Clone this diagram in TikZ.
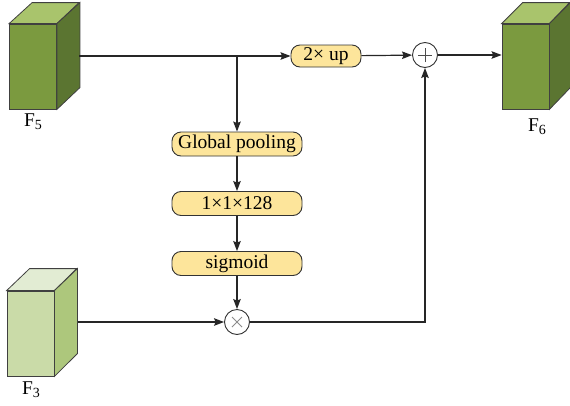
\documentclass[tikz,border=0pt]{standalone}
\usepackage{fontspec}
\setmainfont{Liberation Serif}
\usepackage{xcolor}
\usetikzlibrary{positioning, arrows.meta}

\definecolor{deepfront}{HTML}{7B9A3F}
\definecolor{deeptop}{HTML}{A9C46C}
\definecolor{deepside}{HTML}{5B7531}
\definecolor{lightfront}{HTML}{CADBA8}
\definecolor{lighttop}{HTML}{E2ECD3}
\definecolor{lightside}{HTML}{ADC77C}
\definecolor{boxyellow}{HTML}{FDE59B}

\begin{document}
\begin{tikzpicture}[x=1pt, y=-1pt, >={Stealth[length=10pt,width=7.5pt,inset=1.5pt]},
    every node/.style={font=\fontsize{19.5}{23}\selectfont},
    opbox/.style={draw=black!80, fill=boxyellow, line width=0.9pt, rounded corners=9pt,
        minimum width=130pt, minimum height=24pt, inner sep=0pt},
    opcirc/.style={draw=black!80, fill=white, circle, line width=0.9pt, minimum size=25pt, inner sep=0pt},
    plusmark/.style={path picture={
        \draw[black!70, line width=0.9pt] ([xshift=-7pt]path picture bounding box.center) -- ++(14pt,0pt);
        \draw[black!70, line width=0.9pt] ([yshift=-7pt]path picture bounding box.center) -- ++(0pt,14pt);}},
    timesmark/.style={path picture={
        \draw[black!45, line width=0.8pt] ([shift={(-5pt,-5pt)}]path picture bounding box.center) -- ++(10pt,10pt);
        \draw[black!45, line width=0.8pt] ([shift={(-5pt,5pt)}]path picture bounding box.center) -- ++(10pt,-10pt);}},
    cubeface/.style={draw=black!75, line width=0.8pt, minimum width=47pt, minimum height=85pt, inner sep=0pt},
    flow/.style={->, line width=1.2pt, black!85}]

    \useasboundingbox (0,0) rectangle (570,405);

    % =================================================================
    % KHOI 1: CAC KHOI DAC TRUNG
    % =================================================================
    % F5
    \node[cubeface, fill=deepfront] (f5) at (33,66.5) {};
    \filldraw[draw=black!75, line width=0.8pt, fill=deeptop] (f5.north west) -- ++(23,-21) -- ++(47,0) -- (f5.north east) -- cycle;
    \filldraw[draw=black!75, line width=0.8pt, fill=deepside] (f5.north east) -- ++(23,-21) -- ++(0,85) -- (f5.south east) -- cycle;
    \node (f5lbl) at (33,122) {F\raisebox{-3pt}{\fontsize{14}{16}\selectfont 5}};

    % F6
    \node[cubeface, fill=deepfront] (f6) at (525.5,66.5) {};
    \filldraw[draw=black!75, line width=0.8pt, fill=deeptop] (f6.north west) -- ++(21,-21) -- ++(47,0) -- (f6.north east) -- cycle;
    \filldraw[draw=black!75, line width=0.8pt, fill=deepside] (f6.north east) -- ++(21,-21) -- ++(0,85) -- (f6.south east) -- cycle;
    \node (f6lbl) at (537,127) {F\raisebox{-3pt}{\fontsize{14}{16}\selectfont 6}};

    % F3
    \node[cubeface, fill=lightfront] (f3) at (30.5,333.5) {};
    \filldraw[draw=black!75, line width=0.8pt, fill=lighttop] (f3.north west) -- ++(23,-22) -- ++(47,0) -- (f3.north east) -- cycle;
    \filldraw[draw=black!75, line width=0.8pt, fill=lightside] (f3.north east) -- ++(23,-22) -- ++(0,85) -- (f3.south east) -- cycle;
    \node (f3lbl) at (31,390) {F\raisebox{-3pt}{\fontsize{14}{16}\selectfont 3}};

    % =================================================================
    % KHOI 2: CAC PHEP TOAN
    % =================================================================
    \node[opbox, minimum width=70pt, minimum height=22pt] (up) at (326,56) {2× up};
    \node[opcirc, plusmark] (add) at (425,55) {};
    \node[opbox] (gp) at (237,144) {Global pooling};
    \node[opbox] (mid) at (237,203.5) {1×1×128};
    \node[opbox] (sig) at (237,263.5) {sigmoid};
    \node[opcirc, timesmark] (mul) at (237,322) {};

    \coordinate (f5out) at (79,56);
    \coordinate (f3out) at (78,322);
    \coordinate (split) at (gp |- f5out);

    % =================================================================
    % KHOI 3: CAC MUI TEN
    % =================================================================
    \draw[flow] (f5out) -- (up);
    \draw[flow] (split) -- (gp);
    \draw[flow] (gp) -- (mid);
    \draw[flow] (mid) -- (sig);
    \draw[flow] (sig) -- (mul);
    \draw[flow] (f3out) -- (mul);
    \draw[flow] (mul) -| (add);
    \draw[flow] (up) -- (add);
    \draw[flow] (add) -- (f6.west |- add);

\end{tikzpicture}
\end{document}
